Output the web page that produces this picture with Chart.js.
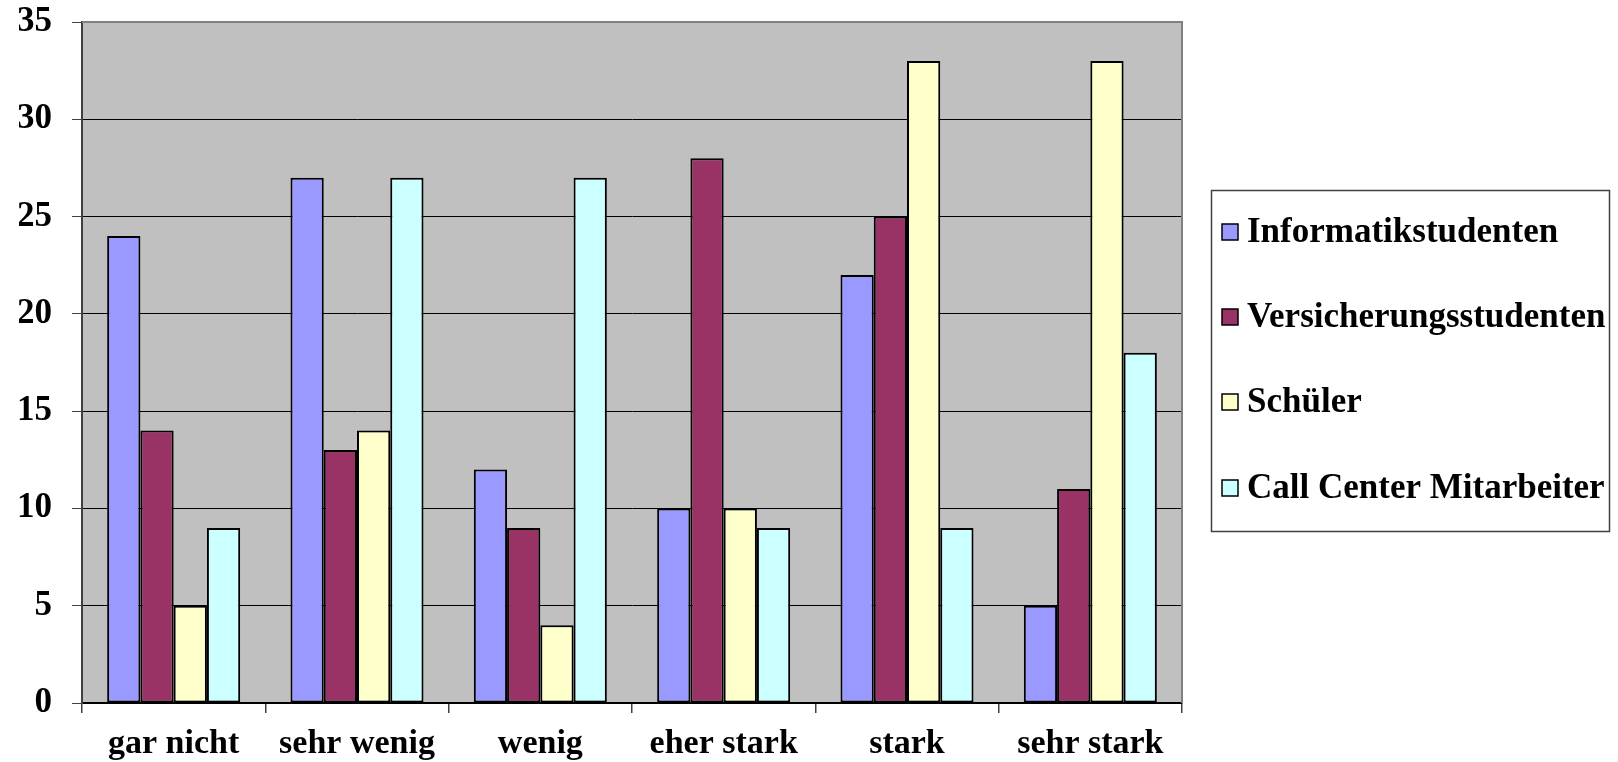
<!DOCTYPE html>
<html>
<head>
<meta charset="utf-8">
<style>
  html, body { margin: 0; padding: 0; background: #ffffff; }
  #wrap { width: 1618px; height: 762px; }
</style>
<script src="https://cdn.jsdelivr.net/npm/chart.js@4/dist/chart.umd.min.js"></script>
</head>
<body>
<div id="wrap"><canvas id="c" width="1618" height="762"></canvas></div>
<script>
// Survey answers per group
const categories = ['gar nicht', 'sehr wenig', 'wenig', 'eher stark', 'stark', 'sehr stark'];
const informatikstudenten = [24, 27, 12, 10, 22, 5];
const versicherungsstudenten = [14, 13, 9, 28, 25, 11];
const schueler = [5, 14, 4, 10, 33, 33];
const callCenter = [9, 27, 27, 9, 9, 18];
const seriesNames = ['Informatikstudenten', 'Versicherungsstudenten', 'Schüler', 'Call Center Mitarbeiter'];
const seriesColors = ['#9999FF', '#993366', '#FFFFCC', '#CCFFFF'];
const yMin = 0, yMax = 35, yStep = 5;

const serif = '"Liberation Serif", "Times New Roman", serif';

// Grey plot background, drawn before the grid
const plotBackground = {
  id: 'plotBackground',
  beforeDraw(chart) {
    const { ctx, chartArea: a } = chart;
    ctx.save();
    ctx.fillStyle = '#C0C0C0';
    ctx.fillRect(a.left, a.top, a.right - a.left, a.bottom - a.top);
    ctx.restore();
  },
  beforeDatasetsDraw(chart) {
    const { ctx, chartArea: a } = chart;
    ctx.save();
    ctx.strokeStyle = '#808080';
    ctx.lineWidth = 2;
    ctx.beginPath();
    ctx.moveTo(a.left, a.top);
    ctx.lineTo(a.right, a.top);
    ctx.lineTo(a.right, a.bottom);
    ctx.stroke();
    ctx.restore();
  }
};

// Boxed legend to the right of the plot
const boxedLegend = {
  id: 'boxedLegend',
  afterDraw(chart) {
    const { ctx } = chart;
    const box = { x: 1211, y: 190, w: 398, h: 341 };
    const rowY = [232, 317, 402, 488];
    ctx.save();
    ctx.strokeStyle = '#404040';
    ctx.lineWidth = 1.5;
    ctx.strokeRect(box.x + 0.5, box.y + 0.5, box.w, box.h);
    ctx.font = 'bold 35px ' + serif;
    ctx.textBaseline = 'middle';
    ctx.textAlign = 'left';
    chart.data.datasets.forEach((ds, i) => {
      const y = rowY[i];
      ctx.fillStyle = ds.backgroundColor;
      ctx.fillRect(1222, y - 8, 16, 16);
      ctx.strokeStyle = '#000';
      ctx.lineWidth = 1.5;
      ctx.strokeRect(1222, y - 8, 16, 16);
      ctx.fillStyle = '#000';
      ctx.fillText(ds.label, 1247, y + 1);
    });
    ctx.restore();
  }
};

const seriesValues = [informatikstudenten, versicherungsstudenten, schueler, callCenter];

new Chart(document.getElementById('c'), {
  type: 'bar',
  data: {
    labels: categories,
    datasets: seriesValues.map((vals, i) => ({
      label: seriesNames[i],
      data: vals,
      backgroundColor: seriesColors[i],
      borderColor: '#000000',
      borderWidth: 2,
      borderSkipped: false,
      categoryPercentage: 0.7256,
      barPercentage: 1.0
    }))
  },
  options: {
    responsive: false,
    animation: false,
    devicePixelRatio: 1,
    layout: { padding: { left: 19, top: 22, right: 436, bottom: 0 } },
    plugins: {
      legend: { display: false },
      tooltip: { enabled: false }
    },
    scales: {
      x: {
        offset: true,
        grid: {
          offset: true,
          drawOnChartArea: false,
          drawTicks: true,
          tickLength: 10,
          color: '#404040',
          lineWidth: 1.5
        },
        border: { display: true, color: '#000000', width: 2 },
        ticks: {
          color: '#000000',
          padding: 11,
          font: { family: serif, size: 34, weight: 'bold' }
        },
        afterFit(scale) {
          scale.height = 59;
          scale.paddingLeft = 0;
          scale.paddingRight = 0;
        }
      },
      y: {
        min: yMin,
        max: yMax,
        grid: {
          color: '#000000',
          lineWidth: 1,
          drawTicks: true,
          tickLength: 10,
          tickColor: '#404040'
        },
        border: { display: true, color: '#404040', width: 2 },
        ticks: {
          stepSize: yStep,
          color: '#000000',
          padding: 20,
          font: { family: serif, size: 35, weight: 'bold' }
        },
        afterFit(scale) {
          scale.width = 63;
          scale.paddingTop = 0;
          scale.paddingBottom = 0;
        }
      }
    }
  },
  plugins: [plotBackground, boxedLegend]
});
</script>
</body>
</html>
